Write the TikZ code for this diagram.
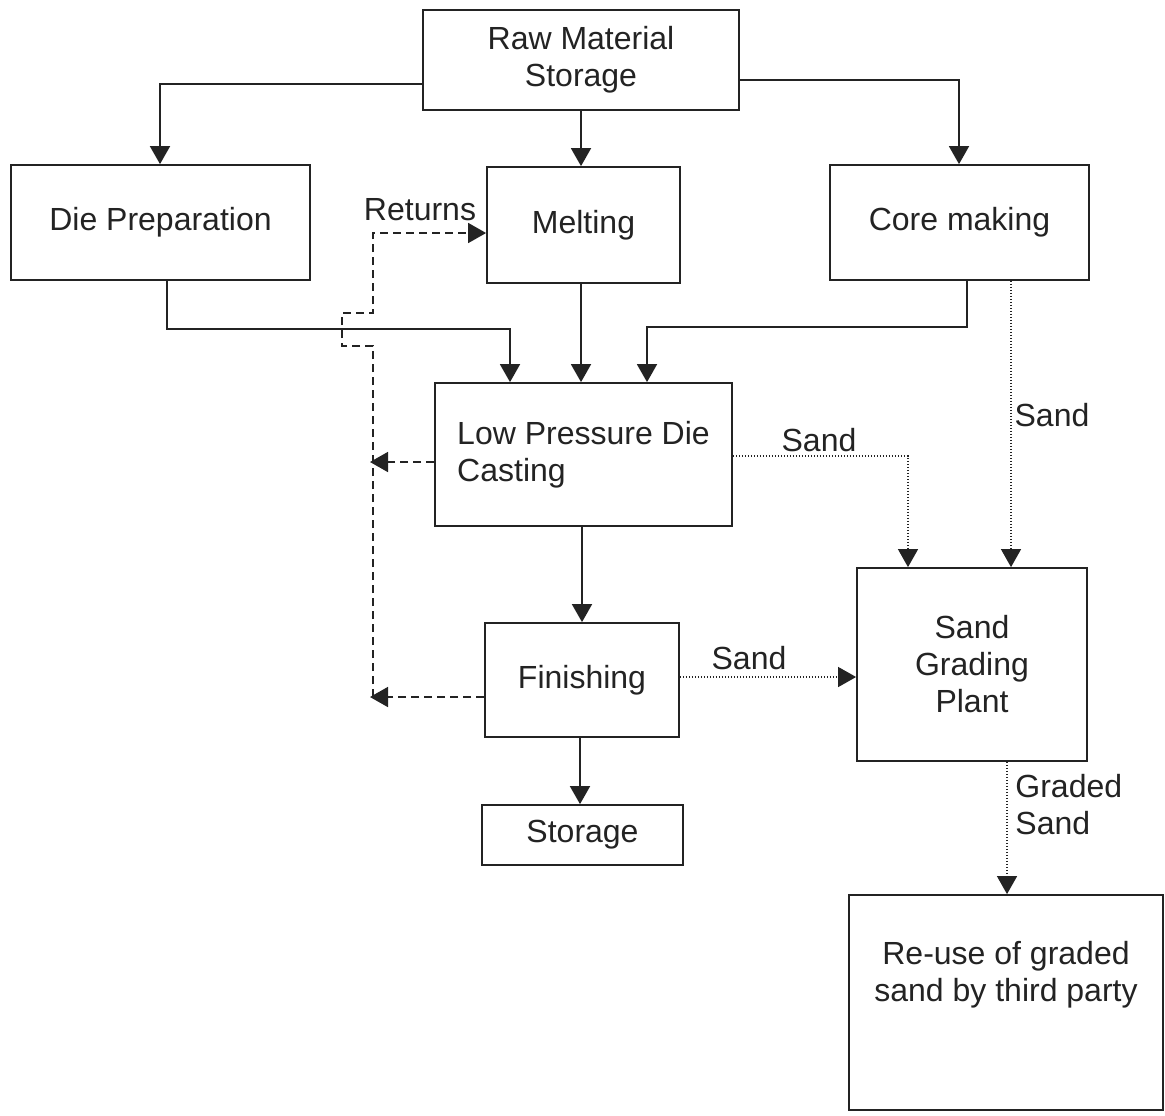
\documentclass[tikz,border=0pt]{standalone}
\usepackage{fontspec}
\setmainfont{Liberation Sans}
\usetikzlibrary{arrows.meta}
\definecolor{ink}{RGB}{35,35,35}
\begin{document}
\begin{tikzpicture}[x=0.5pt,y=-0.5pt,
  every node/.style={font=\fontsize{16pt}{18.5pt}\selectfont, text=ink},
  box/.style={draw=ink, line width=0.9pt, inner sep=0pt, align=center},
  arr/.style={draw=ink, line width=0.9pt, -{Triangle[length=9pt,width=10pt]}},
  dashline/.style={draw=ink, line width=0.8pt, dash pattern=on 4pt off 2.5pt},
  dotline/.style={draw=ink, line width=0.6pt, dash pattern=on 0.6pt off 0.9pt},
  lbl/.style={inner sep=0pt}
]
\useasboundingbox (0,0) rectangle (1165,1115);
\fill[white] (0,0) rectangle (1165,1115);

% boxes
\node[box, minimum width=158pt, minimum height=50pt] (rms) at (581,60) {Raw Material\\Storage};
\node[box, minimum width=149.5pt, minimum height=57.5pt] (die) at (160.5,222.5) {Die Preparation};
\node[box, minimum width=96.5pt, minimum height=58pt] (melt) at (583.5,225) {Melting};
\node[box, minimum width=129.5pt, minimum height=57.5pt] (core) at (959.5,222.5) {Core making};
\node[box, minimum width=148.5pt, minimum height=71.5pt, align=left] (lpdc) at (583.5,454.5) {Low Pressure Die\\Casting};
\node[box, minimum width=97pt, minimum height=57pt] (fin) at (582,680) {Finishing};
\node[box, minimum width=100.5pt, minimum height=30pt] (stor) at (582.5,835) {Storage};
\node[box, minimum width=115pt, minimum height=96.5pt] (sgp) at (972,664.5) {Sand\\Grading\\Plant};
\node[box, minimum width=157pt, minimum height=107.5pt] (reuse) at (1006,1002.5) {};
\node[lbl, align=center] (reusetext) at (1006,975) {Re-use of graded\\sand by third party};

% solid connectors
\draw[arr] (rms.west |- 0,84) -- (160,84) -- (die.north -| 160,0);
\draw[arr] (rms.south -| 581,0) -- (melt.north -| 581,0);
\draw[arr] (rms.east |- 0,80) -- (959,80) -- (core.north -| 959,0);
\draw[arr] (die.south -| 167,0) -- (167,329) -- (510,329) -- (lpdc.north -| 510,0);
\draw[arr] (melt.south -| 581,0) -- (lpdc.north -| 581,0);
\draw[arr] (core.south -| 967,0) -- (967,327) -- (647,327) -- (lpdc.north -| 647,0);
\draw[arr] (lpdc.south -| 582,0) -- (fin.north -| 582,0);
\draw[arr] (fin.south -| 580,0) -- (stor.north -| 580,0);

% returns (dashed)
\coordinate (retA) at (370,462);
\coordinate (retB) at (370,697);
\draw[dashline, -{Triangle[length=9pt,width=10pt]}] (lpdc.west |- retA) -- (retA);
\draw[dashline, -{Triangle[length=9pt,width=10pt]}] (fin.west |- retB) -- (retB);
\draw[dashline, -{Triangle[length=9pt,width=10pt]}] (373,697) -- (373,346) -- (342,346) -- (342,313) -- (373,313) -- (373,233) -- (melt.west |- 0,233);
\node[lbl] (returns) at (420,210) {Returns};

% sand (dotted)
\draw[dotline, -{Triangle[length=9pt,width=10pt]}] (lpdc.east |- 0,456) -- (908,456) -- (sgp.north -| 908,0);
\node[lbl] (sand1) at (819,440) {Sand};
\draw[dotline, -{Triangle[length=9pt,width=10pt]}] (core.south -| 1011,0) -- (sgp.north -| 1011,0);
\node[lbl] (sand2) at (1052,415) {Sand};
\draw[dotline, -{Triangle[length=9pt,width=10pt]}] (fin.east |- 0,677) -- (sgp.west |- 0,677);
\node[lbl] (sand3) at (749,658) {Sand};
\draw[dotline, -{Triangle[length=9pt,width=10pt]}] (sgp.south -| 1007,0) -- (reuse.north -| 1007,0);
\node[lbl, align=left, anchor=west] (graded) at (1015,805) {Graded\\Sand};
\end{tikzpicture}
\end{document}
